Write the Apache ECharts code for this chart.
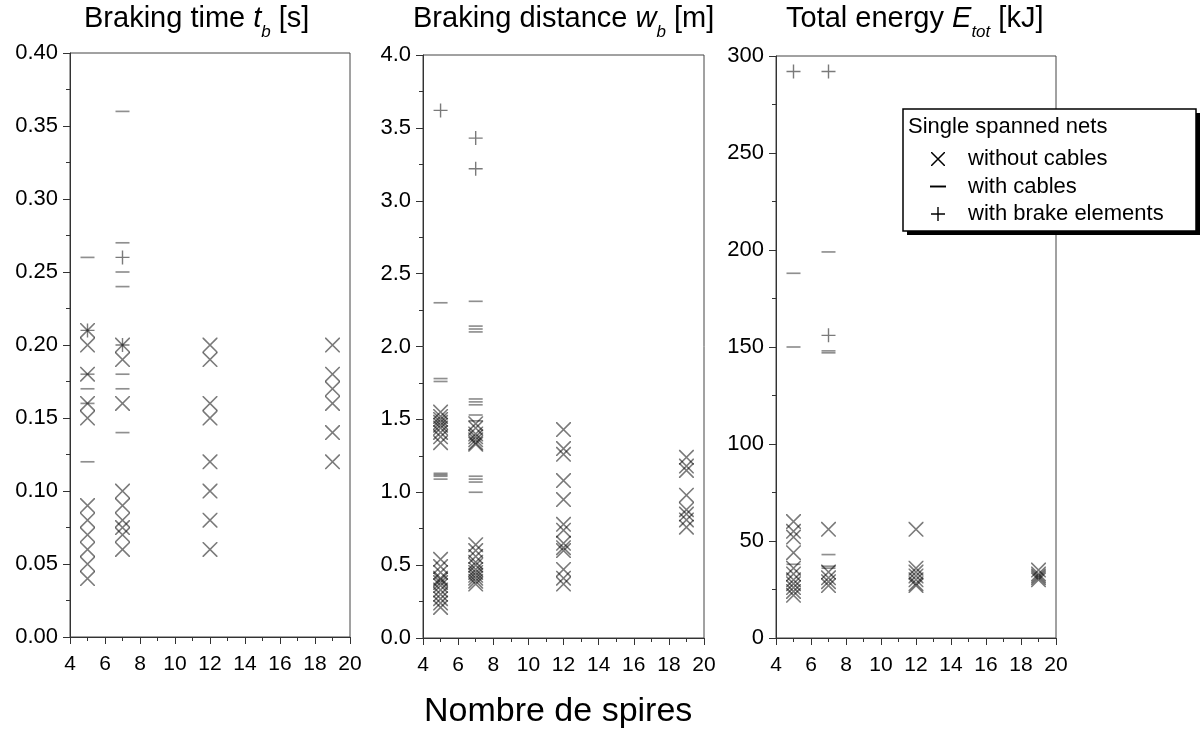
<!DOCTYPE html>
<html>
<head>
<meta charset="utf-8">
<script src="https://cdn.jsdelivr.net/npm/echarts@6/dist/echarts.min.js"></script>
<style>
  html, body { margin: 0; padding: 0; background: #fff; }
  #chart { width: 1200px; height: 735px; }
</style>
</head>
<body>
<div id="chart"></div>
<script>
// number of coils on x, values as [spires, value]
const timeWithout = [
  [5, 0.21], [5, 0.20], [5, 0.18], [5, 0.16], [5, 0.15], [5, 0.09], [5, 0.08], [5, 0.07], [5, 0.06], [5, 0.05], [5, 0.04],
  [7, 0.20], [7, 0.19], [7, 0.16], [7, 0.10], [7, 0.09], [7, 0.08], [7, 0.075], [7, 0.07], [7, 0.06],
  [12, 0.20], [12, 0.19], [12, 0.16], [12, 0.15], [12, 0.12], [12, 0.10], [12, 0.08], [12, 0.06],
  [19, 0.20], [19, 0.18], [19, 0.17], [19, 0.16], [19, 0.14], [19, 0.12]
]
const timeCables = [
  [5, 0.26], [5, 0.18], [5, 0.17], [5, 0.16], [5, 0.12],
  [7, 0.36], [7, 0.27], [7, 0.25], [7, 0.24], [7, 0.18], [7, 0.17], [7, 0.14]
]
const timeBrake = [[5, 0.21], [7, 0.26], [7, 0.20]]

const distWithout = [
  [5, 1.55], [5, 1.52], [5, 1.50], [5, 1.48], [5, 1.46], [5, 1.44], [5, 1.41], [5, 1.38], [5, 1.34],
  [5, 0.54], [5, 0.49], [5, 0.45], [5, 0.41], [5, 0.40], [5, 0.38], [5, 0.36], [5, 0.33], [5, 0.30], [5, 0.27], [5, 0.24], [5, 0.21],
  [7, 1.47], [7, 1.44], [7, 1.40], [7, 1.38], [7, 1.36], [7, 1.34], [7, 1.33],
  [7, 0.64], [7, 0.60], [7, 0.56], [7, 0.52], [7, 0.50], [7, 0.47], [7, 0.45], [7, 0.43], [7, 0.41], [7, 0.39], [7, 0.37],
  [12, 1.43], [12, 1.30], [12, 1.26], [12, 1.08], [12, 0.95], [12, 0.78], [12, 0.74], [12, 0.65], [12, 0.62], [12, 0.60], [12, 0.47], [12, 0.41], [12, 0.37],
  [19, 1.24], [19, 1.18], [19, 1.15], [19, 0.98], [19, 0.88], [19, 0.85], [19, 0.81], [19, 0.76]
]
const distCables = [
  [5, 2.30], [5, 1.78], [5, 1.76], [5, 1.13], [5, 1.12], [5, 1.11], [5, 1.09],
  [7, 2.31], [7, 2.14], [7, 2.12], [7, 2.10], [7, 1.64], [7, 1.62], [7, 1.60], [7, 1.53], [7, 1.49],
  [7, 1.11], [7, 1.09], [7, 1.07], [7, 1.00]
]
const distBrake = [[5, 3.62], [7, 3.43], [7, 3.22]]

const energyWithout = [
  [5, 60], [5, 55], [5, 52], [5, 44], [5, 36], [5, 33], [5, 30], [5, 28], [5, 26], [5, 24], [5, 22],
  [7, 56], [7, 34], [7, 31], [7, 29], [7, 27],
  [12, 56], [12, 36], [12, 34], [12, 32], [12, 30], [12, 28], [12, 27],
  [19, 35], [19, 33], [19, 32], [19, 31], [19, 30]
]
const energyCables = [[5, 188], [5, 150], [5, 38], [7, 199], [7, 148], [7, 147], [7, 43], [7, 37], [7, 36]]
const energyBrake = [[5, 292], [7, 292], [7, 156]]

const xTicks = { min: 4, max: 20, interval: 2 }
const yTicks = [
  { min: 0, max: 0.4, interval: 0.05, digits: 2 },
  { min: 0, max: 4, interval: 0.5, digits: 1 },
  { min: 0, max: 300, interval: 50, digits: 0 }
]

const NAMES = ['without cables', 'with cables', 'with brake elements']
const FONT = 'Liberation Sans, Arial, sans-serif'

// marker shapes as thin filled outlines so overlaps darken like the original
const SYM_X = 'path://M0,0L0.75,0L10,9.25L10,10L9.25,10L0,0.75ZM10,0L10,0.75L0.75,10L0,10L0,9.25L9.25,0Z'
const SYM_MINUS = 'path://M0,0H10V1.2H0Z'
const SYM_PLUS = 'path://M4.5,0H5.5V4.5H10V5.5H5.5V10H4.5V5.5H0V4.5H4.5Z'
const SYMS = [SYM_X, SYM_MINUS, SYM_PLUS]

const grids = [
  { left: 70, top: 53, width: 280, height: 584 },
  { left: 423, top: 55, width: 281, height: 583 },
  { left: 776, top: 56, width: 280, height: 582 }
]

const panels = [
  [timeWithout, timeCables, timeBrake],
  [distWithout, distCables, distBrake],
  [energyWithout, energyCables, energyBrake]
]

const chart = echarts.init(document.getElementById('chart'))

const axisCommon = {
  axisLine: { onZero: false, lineStyle: { color: '#333', width: 1 } },
  axisTick: { show: true, inside: false, length: 7, lineStyle: { color: '#333' } },
  minorTick: { show: true, splitNumber: 2, length: 4, lineStyle: { color: '#333' } },
  splitLine: { show: false },
  minorSplitLine: { show: false }
}

const xAxis = grids.map((g, i) => ({
  type: 'value',
  gridIndex: i,
  min: xTicks.min,
  max: xTicks.max,
  interval: xTicks.interval,
  ...axisCommon,
  axisLabel: { color: '#000', fontSize: 21, fontFamily: FONT, margin: 17, showMinLabel: true, showMaxLabel: true }
}))

const yAxis = yTicks.map((t, i) => ({
  type: 'value',
  gridIndex: i,
  min: t.min,
  max: t.max,
  interval: t.interval,
  ...axisCommon,
  axisLabel: {
    color: '#000', fontSize: 22, fontFamily: FONT, margin: 12,
    formatter: (v) => v.toFixed(t.digits)
  }
}))

const series = []
panels.forEach((sets, i) => {
  const sizes = [15, 14, 14]
  const colors = ['rgba(0,0,0,0.65)', 'rgba(0,0,0,0.55)', 'rgba(0,0,0,0.65)']
  sets.forEach((data, k) => {
    series.push({
      name: NAMES[k],
      type: 'scatter',
      xAxisIndex: i,
      yAxisIndex: i,
      data: data,
      symbol: SYMS[k],
      symbolSize: sizes[k],
      symbolKeepAspect: true,
      itemStyle: { color: colors[k] },
      emphasis: { disabled: true },
      z: 3
    })
  })
})

const base = { fontFamily: FONT, color: '#000', fontWeight: 'normal', lineHeight: 44 }
const richTitle = {
  n: { ...base, fontSize: 29, verticalAlign: 'middle' },
  i: { ...base, fontSize: 29, fontStyle: 'italic', verticalAlign: 'middle' },
  s: { ...base, fontSize: 17, fontStyle: 'italic', verticalAlign: 'bottom' }
}

const option = {
  animation: false,
  backgroundColor: '#fff',
  title: [
    { text: '{n|Braking time }{i|t}{s|b}{n| [s]}', left: 84, top: -3, padding: 0, textStyle: { fontWeight: 'normal', rich: richTitle } },
    { text: '{n|Braking distance }{i|w}{s|b}{n| [m]}', left: 413, top: -3, padding: 0, textStyle: { fontWeight: 'normal', rich: richTitle } },
    { text: '{n|Total energy }{i|E}{s|tot}{n| [kJ]}', left: 786, top: -3, padding: 0, textStyle: { fontWeight: 'normal', rich: richTitle } },
    { text: 'Nombre de spires', left: 424, top: 695, padding: 0, textStyle: { fontSize: 34, fontWeight: 'normal', fontFamily: FONT, color: '#000' } }
  ],
  grid: grids.map((g) => ({ ...g, show: true, borderColor: '#444', borderWidth: 1, backgroundColor: 'transparent' })),
  xAxis: xAxis,
  yAxis: yAxis,
  legend: {
    orient: 'vertical',
    left: 925,
    top: 143,
    itemWidth: 16,
    itemHeight: 14,
    itemGap: 5.5,
    selectedMode: false,
    z: 20,
    itemStyle: { color: '#000', opacity: 1 },
    textStyle: { fontSize: 22, fontFamily: FONT, color: '#000', lineHeight: 22, padding: [0, 0, 0, 17] },
    data: NAMES.map((n, k) => ({ name: n, icon: SYMS[k], itemStyle: { color: '#000', opacity: 1 } }))
  },
  graphic: [
    {
      type: 'rect',
      z: 9,
      shape: { x: 907, y: 113, width: 293, height: 122 },
      style: { fill: '#000' }
    },
    {
      type: 'rect',
      z: 10,
      shape: { x: 903, y: 109, width: 293, height: 122 },
      style: { fill: '#fff', stroke: '#000', lineWidth: 1.5 }
    },
    {
      type: 'text',
      z: 11,
      x: 908,
      y: 127,
      style: { text: 'Single spanned nets', fontSize: 22, fontFamily: FONT, fill: '#000', verticalAlign: 'middle' }
    }
  ],
  series: series
}

chart.setOption(option)
</script>
</body>
</html>
